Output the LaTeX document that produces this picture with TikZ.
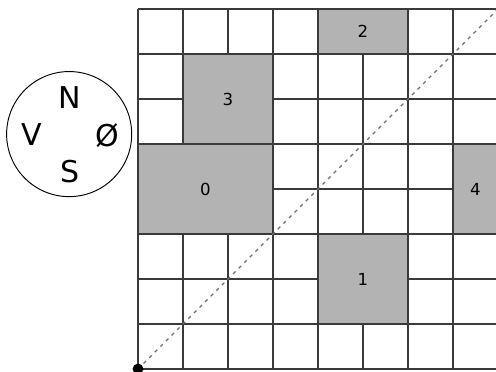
\documentclass[tikz,border=0pt]{standalone}
\usepackage{fontspec}
\setmainfont{DejaVu Sans}
\usepackage{tikz}
\usepackage{xcolor}
\usetikzlibrary{positioning}
\definecolor{PlanLine}{HTML}{3A3A3A}
\definecolor{PlanBlock}{HTML}{B3B3B3}
\definecolor{PlanDash}{HTML}{6E6E6E}
\tikzset{
  block/.style={fill=PlanBlock,draw=PlanLine,line width=0.8pt},
  blocklabel/.style={font=\fontsize{10.5}{12}\selectfont},
  compass/.style={font=\fontsize{19}{22}\selectfont}
}

\begin{document}
\begin{tikzpicture}[x=1cm,y=1cm]
        \clip (-3.067,-0.067) rectangle (7.956,8.2);

        % grid
        \draw[PlanLine,line width=0.8pt] (0,0) grid (8,8);

        % blocks
        \draw[block] (0,3) rectangle (3,5);
        \draw[block] (4,1) rectangle (6,3);
        \draw[block] (4,7) rectangle (6,8);
        \draw[block] (1,5) rectangle (3,7);
        \draw[block] (7,3) rectangle (8,5);
        \node[blocklabel] (b0) at (1.5,4) {0};
        \node[blocklabel] (b1) at (5,2) {1};
        \node[blocklabel] (b2) at (5,7.5) {2};
        \node[blocklabel] (b3) at (2,6) {3};
        \node[blocklabel] (b4) at (7.5,4) {4};

        % diagonal
        \coordinate (origin) at (0,0);
        \coordinate (corner) at (8,8);
        \draw[PlanDash,dash pattern=on 2.2pt off 2.8pt,line width=0.7pt] (origin) -- (corner);
        \fill[black] (origin) circle (0.12);

        % compass
        \draw[black,line width=0.6pt] (-1.53,5.22) circle (1.39);
        \node[compass] (north) at (-1.51,6.04) {N};
        \node[compass] (south) at (-1.51,4.38) {S};
        \node[compass] (west) at (-2.36,5.22) {V};
        \node[compass] (east) at (-0.69,5.18) {Ø};
      \end{tikzpicture}
\end{document}
